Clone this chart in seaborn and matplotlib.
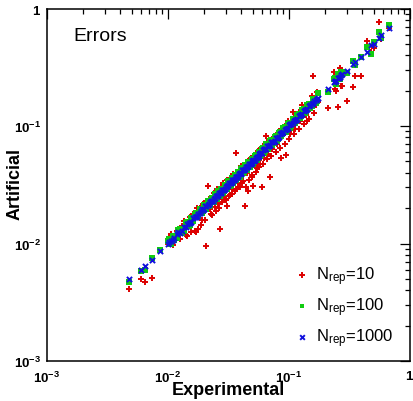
import numpy as np
import pandas as pd
import matplotlib
matplotlib.use("Agg")
import matplotlib.pyplot as plt
import matplotlib.ticker as mticker
import seaborn as sns

# ---------------- data ----------------
experimental_a = [
    0.0048, 0.0060, 0.0065, 0.0074, 0.0086, 0.0100, 0.0105, 0.0110, 0.0118, 0.0125,
    0.0135, 0.0140, 0.0148, 0.0155, 0.0162, 0.0170, 0.0178, 0.0185, 0.0192, 0.0200,
    0.0208, 0.0215, 0.0222, 0.0230, 0.0238, 0.0245, 0.0252, 0.0260, 0.0268, 0.0276,
    0.0285, 0.0295, 0.0305, 0.0315, 0.0325, 0.0335, 0.0345, 0.0356, 0.0368, 0.0380,
    0.0392, 0.0405, 0.0418, 0.0432, 0.0446, 0.0460, 0.0475, 0.0490, 0.0505, 0.0520,
    0.0540, 0.0560, 0.0580, 0.0600, 0.0625, 0.0650, 0.0675, 0.0700, 0.0730, 0.0760,
    0.0790, 0.0820, 0.0860, 0.0900, 0.0940, 0.0980, 0.1020, 0.1070, 0.1120, 0.1170,
    0.1230, 0.1290, 0.1350, 0.1420, 0.1500, 0.1580, 0.1660, 0.1750,
    0.2100, 0.2350, 0.2450, 0.2550, 0.2650, 0.2750, 0.3000, 0.3400, 0.3500, 0.3900,
    0.4400, 0.4800, 0.5000, 0.5500, 0.5800, 0.6700,
]
experimental_b = [
    0.0102, 0.0113, 0.0122, 0.0130, 0.0144, 0.0152, 0.0166, 0.0174, 0.0188, 0.0196,
    0.0204, 0.0218, 0.0226, 0.0234, 0.0248, 0.0256, 0.0264, 0.0272, 0.0280, 0.0290,
    0.0300, 0.0310, 0.0320, 0.0330, 0.0340, 0.0350, 0.0362, 0.0374, 0.0386, 0.0398,
    0.0412, 0.0425, 0.0439, 0.0453, 0.0468, 0.0483, 0.0498, 0.0512, 0.0530, 0.0550,
    0.0570, 0.0590, 0.0612, 0.0638, 0.0662, 0.0688, 0.0715, 0.0745, 0.0775, 0.0805,
    0.0840, 0.0880, 0.0920, 0.0960, 0.1000, 0.1045, 0.1095, 0.1145, 0.1200, 0.1260,
    0.1320, 0.1385, 0.1460, 0.1540, 0.1620, 0.1700, 0.2400, 0.2600, 0.2700,
]
artificial_10_a = [
    0.0041, 0.0050, 0.0047, 0.0051, 0.0088, 0.0099, 0.0120, 0.0098, 0.0128, 0.0110,
    0.0155, 0.0118, 0.0160, 0.0125, 0.0180, 0.0125, 0.0133, 0.0200, 0.0160, 0.0220,
    0.0095, 0.0310, 0.0195, 0.0175, 0.0270, 0.0205, 0.0290, 0.0215, 0.0133, 0.0250,
    0.0330, 0.0240, 0.0210, 0.0350, 0.0260, 0.0290, 0.0390, 0.0280, 0.0590, 0.0330,
    0.0300, 0.0460, 0.0340, 0.0210, 0.0420, 0.0280, 0.0520, 0.0365, 0.0310, 0.0470,
    0.0440, 0.0620, 0.0480, 0.0305, 0.0540, 0.0830, 0.0580, 0.0365, 0.0640, 0.0780,
    0.0700, 0.0900, 0.0530, 0.0840, 0.0570, 0.1100, 0.0860, 0.1320, 0.0950, 0.1080,
    0.1100, 0.1500, 0.1250, 0.1100, 0.1400, 0.2650, 0.1520, 0.1600,
    0.1420, 0.2900, 0.2000, 0.1460, 0.3100, 0.2200, 0.1620, 0.2140, 0.2650, 0.2650,
    0.5300, 0.4300, 0.4600, 0.7700, 0.5500, 0.6900,
]
artificial_10_b = [
    0.0112, 0.0105, 0.0118, 0.0140, 0.0115, 0.0168, 0.0128, 0.0200, 0.0143, 0.0215,
    0.0160, 0.0240, 0.0178, 0.0250, 0.0190, 0.0275, 0.0200, 0.0300, 0.0225, 0.0310,
    0.0235, 0.0350, 0.0255, 0.0300, 0.0265, 0.0380, 0.0290, 0.0400, 0.0300, 0.0430,
    0.0330, 0.0460, 0.0300, 0.0400, 0.0350, 0.0530, 0.0380, 0.0560, 0.0410, 0.0610,
    0.0450, 0.0540, 0.0480, 0.0700, 0.0520, 0.0760, 0.0560, 0.0800, 0.0600, 0.0880,
    0.0650, 0.0950, 0.0700, 0.1050, 0.0780, 0.0930, 0.0850, 0.1250, 0.0950, 0.1370,
    0.1050, 0.1250, 0.1150, 0.1800, 0.1300, 0.1950, 0.2050, 0.2900, 0.2200,
]
artificial_100_a = [
    0.0047, 0.0058, 0.0059, 0.0075, 0.0088, 0.0106, 0.0100, 0.0116, 0.0112, 0.0133,
    0.0128, 0.0150, 0.0140, 0.0166, 0.0155, 0.0182, 0.0170, 0.0196, 0.0183, 0.0212,
    0.0198, 0.0228, 0.0212, 0.0245, 0.0226, 0.0262, 0.0240, 0.0278, 0.0256, 0.0294,
    0.0270, 0.0314, 0.0290, 0.0338, 0.0310, 0.0360, 0.0328, 0.0380, 0.0350, 0.0405,
    0.0372, 0.0432, 0.0398, 0.0462, 0.0424, 0.0492, 0.0452, 0.0524, 0.0480, 0.0556,
    0.0512, 0.0600, 0.0552, 0.0640, 0.0595, 0.0700, 0.0640, 0.0750, 0.0695, 0.0810,
    0.0752, 0.0880, 0.0820, 0.0965, 0.0890, 0.1050, 0.0970, 0.1140, 0.1065, 0.1250,
    0.1170, 0.1380, 0.1280, 0.1520, 0.1430, 0.1700, 0.1580, 0.1900,
    0.1950, 0.2500, 0.2300, 0.2750, 0.2500, 0.2900, 0.2850, 0.3600, 0.3300, 0.3850,
    0.4750, 0.4100, 0.5200, 0.6300, 0.5600, 0.7200,
]
artificial_100_b = [
    0.0110, 0.0108, 0.0130, 0.0124, 0.0152, 0.0144, 0.0176, 0.0167, 0.0198, 0.0189,
    0.0214, 0.0210, 0.0235, 0.0225, 0.0258, 0.0248, 0.0276, 0.0262, 0.0294, 0.0280,
    0.0318, 0.0300, 0.0340, 0.0318, 0.0360, 0.0338, 0.0384, 0.0360, 0.0410, 0.0385,
    0.0436, 0.0410, 0.0466, 0.0440, 0.0496, 0.0468, 0.0528, 0.0496, 0.0562, 0.0530,
    0.0605, 0.0570, 0.0650, 0.0615, 0.0700, 0.0665, 0.0760, 0.0720, 0.0820, 0.0780,
    0.0895, 0.0850, 0.0980, 0.0925, 0.1060, 0.1010, 0.1160, 0.1105, 0.1270, 0.1215,
    0.1400, 0.1340, 0.1540, 0.1490, 0.1700, 0.1640, 0.2550, 0.2500, 0.2900,
]
artificial_1000_a = [
    0.0050, 0.0059, 0.0065, 0.0072, 0.0086, 0.0099, 0.0106, 0.0108, 0.0120, 0.0124,
    0.0137, 0.0138, 0.0150, 0.0153, 0.0164, 0.0168, 0.0180, 0.0183, 0.0195, 0.0198,
    0.0210, 0.0212, 0.0225, 0.0228, 0.0241, 0.0243, 0.0255, 0.0258, 0.0271, 0.0273,
    0.0288, 0.0292, 0.0308, 0.0312, 0.0329, 0.0331, 0.0349, 0.0352, 0.0372, 0.0376,
    0.0396, 0.0401, 0.0423, 0.0428, 0.0451, 0.0455, 0.0480, 0.0485, 0.0511, 0.0514,
    0.0546, 0.0554, 0.0587, 0.0593, 0.0632, 0.0643, 0.0683, 0.0692, 0.0738, 0.0752,
    0.0799, 0.0811, 0.0870, 0.0890, 0.0951, 0.0970, 0.1032, 0.1058, 0.1133, 0.1157,
    0.1244, 0.1276, 0.1366, 0.1404, 0.1518, 0.1562, 0.1680, 0.1730,
    0.2080, 0.2380, 0.2420, 0.2580, 0.2620, 0.2780, 0.2970, 0.3350, 0.3480, 0.3850,
    0.4300, 0.4900, 0.5000, 0.5600, 0.6000, 0.6800,
]
artificial_1000_b = [
    0.0104, 0.0111, 0.0125, 0.0128, 0.0147, 0.0150, 0.0169, 0.0172, 0.0191, 0.0193,
    0.0208, 0.0215, 0.0230, 0.0231, 0.0252, 0.0253, 0.0268, 0.0269, 0.0285, 0.0287,
    0.0305, 0.0307, 0.0325, 0.0327, 0.0345, 0.0346, 0.0368, 0.0370, 0.0392, 0.0394,
    0.0419, 0.0420, 0.0446, 0.0449, 0.0475, 0.0479, 0.0506, 0.0508, 0.0538, 0.0546,
    0.0578, 0.0586, 0.0621, 0.0633, 0.0672, 0.0683, 0.0726, 0.0739, 0.0787, 0.0799,
    0.0853, 0.0873, 0.0934, 0.0953, 0.1015, 0.1037, 0.1112, 0.1136, 0.1218, 0.1250,
    0.1340, 0.1374, 0.1482, 0.1528, 0.1645, 0.1688, 0.2440, 0.2580, 0.2740,
]
series_labels = [r"$\mathrm{N_{rep}}$=10", r"$\mathrm{N_{rep}}$=100", r"$\mathrm{N_{rep}}$=1000"]
tick_values = [1e-3, 1e-2, 1e-1, 1]
tick_labels = [r"$\mathbf{10^{-3}}$", r"$\mathbf{10^{-2}}$", r"$\mathbf{10^{-1}}$", r"$\mathbf{1}$"]

experimental = experimental_a + experimental_b
series_values = [artificial_10_a + artificial_10_b,
                 artificial_100_a + artificial_100_b,
                 artificial_1000_a + artificial_1000_b]

# ---------------- style ----------------
sns.set_style("white")
plt.rcParams["font.family"] = ["Liberation Sans", "DejaVu Sans"]
plt.rcParams["mathtext.fontset"] = "custom"
plt.rcParams["mathtext.rm"] = "Liberation Sans"
plt.rcParams["mathtext.it"] = "Liberation Sans:italic"
plt.rcParams["mathtext.bf"] = "Liberation Sans:bold"
plt.rcParams["text.color"] = "black"
plt.rcParams["axes.labelcolor"] = "black"
plt.rcParams["xtick.color"] = "black"
plt.rcParams["ytick.color"] = "black"

fig = plt.figure(figsize=(4.14, 4.02), dpi=100)
ax = fig.add_axes([0.1135, 0.0995, 0.8768, 0.8766])

colors = ["#dd0000", "#11cc11", "#1010dd"]
markers = ["+", "s", "x"]
sizes = [20, 13, 14]
lws = [1.4, 0, 1.4]
for yv, lab, c, m, s, lw in zip(series_values, series_labels, colors, markers, sizes, lws):
    df = pd.DataFrame({"Experimental": experimental, "Artificial": yv})
    sns.scatterplot(data=df, x="Experimental", y="Artificial", marker=m, color=c,
                    s=s, linewidth=lw, ax=ax, label=lab, zorder=3)

ax.set_xscale("log")
ax.set_yscale("log")
ax.set_xlim(1e-3, 1)
ax.set_ylim(1e-3, 1)
ax.set_xticks(tick_values)
ax.set_xticklabels(tick_labels)
ax.set_yticks(tick_values)
ax.set_yticklabels(tick_labels)
ax.xaxis.set_minor_locator(mticker.LogLocator(base=10, subs=np.arange(2, 10)))
ax.yaxis.set_minor_locator(mticker.LogLocator(base=10, subs=np.arange(2, 10)))
ax.xaxis.set_minor_formatter(mticker.NullFormatter())
ax.yaxis.set_minor_formatter(mticker.NullFormatter())
ax.tick_params(which="both", direction="in", top=True, right=True,
               color="black", labelcolor="black", width=0.9, labelsize=9.5)
ax.tick_params(which="major", length=7)
ax.tick_params(which="minor", length=3.8)
ax.tick_params(axis="x", pad=6)
ax.tick_params(axis="y", pad=4)
for sp in ax.spines.values():
    sp.set_linewidth(1.1)
    sp.set_color("black")

ax.set_xlabel("Experimental", fontsize=13, fontweight="bold", color="black")
ax.set_ylabel("Artificial", fontsize=13, fontweight="bold", color="black")
ax.xaxis.set_label_coords(0.5, -0.082)
ax.xaxis.label.set_va("center")
ax.yaxis.set_label_coords(-0.088, 0.505)
ax.yaxis.label.set_va("center")

ax.text(0.072, 0.925, "Errors", transform=ax.transAxes, fontsize=14,
        ha="left", va="center", color="black")

leg = ax.legend(loc="upper left", bbox_to_anchor=(0.689, 0.275), frameon=False,
                fontsize=12, handlelength=0.6, handletextpad=0.55,
                labelspacing=0.52, borderaxespad=0, borderpad=0, markerscale=0.9)
for t in leg.get_texts():
    t.set_color("black")

fig.savefig("out.png", dpi=100)
